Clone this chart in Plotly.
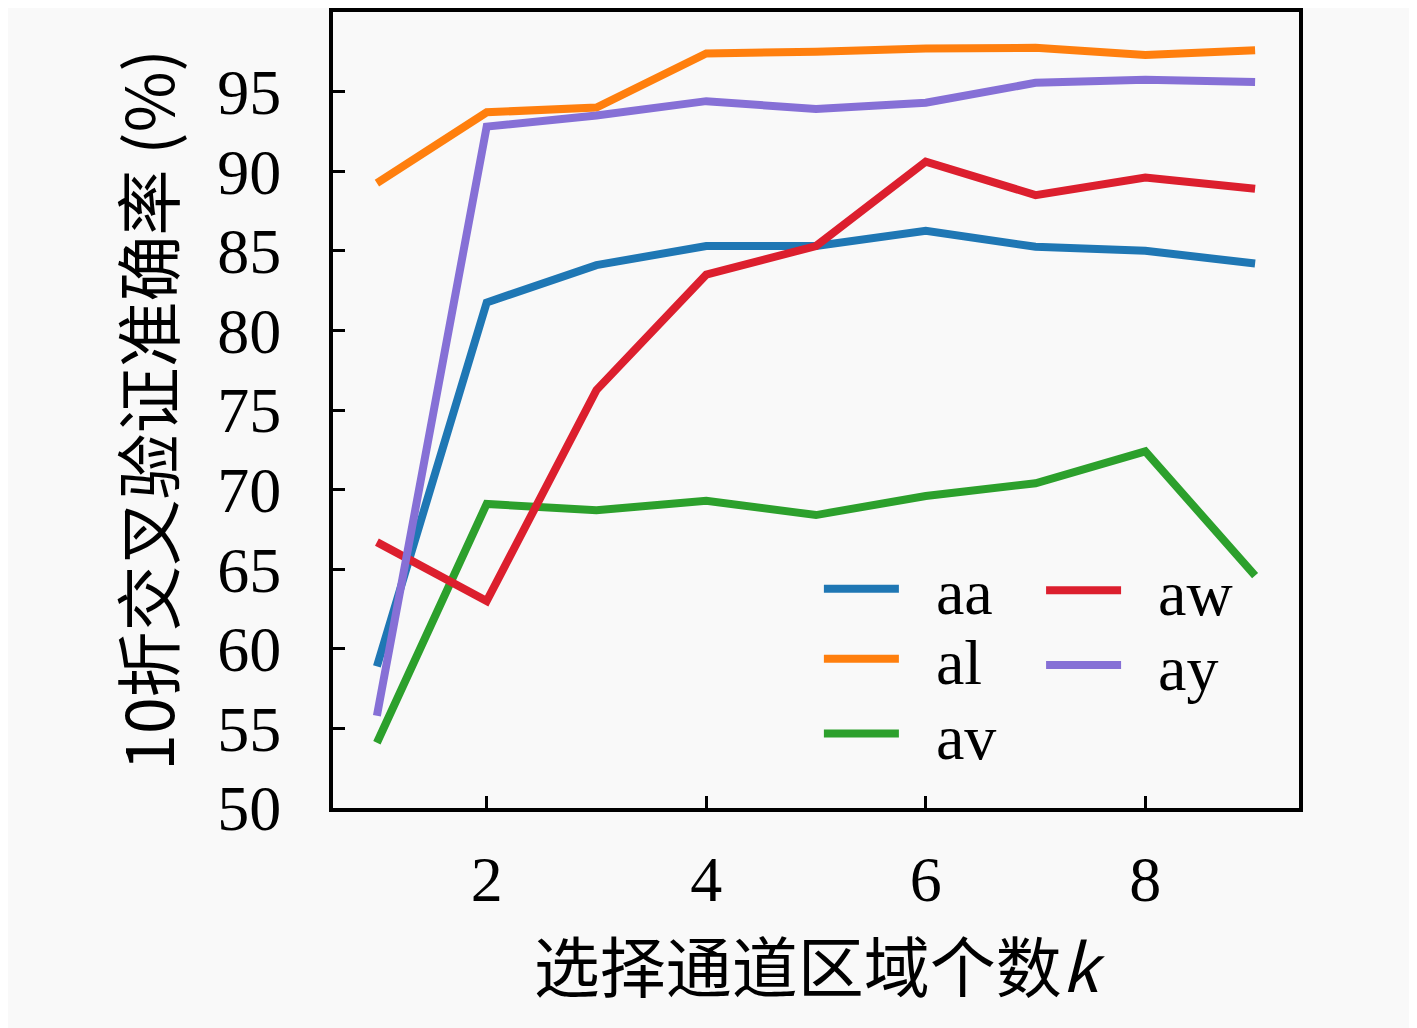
import plotly.graph_objects as go

k = [1, 2, 3, 4, 5, 6, 7, 8, 9]
aa = [58.9, 81.75, 84.1, 85.3, 85.3, 86.25, 85.25, 85.0, 84.2]
al = [89.25, 93.7, 94.0, 97.4, 97.5, 97.7, 97.75, 97.3, 97.6]
av = [54.1, 69.1, 68.7, 69.3, 68.4, 69.6, 70.4, 72.4, 64.6]
aw = [66.7, 63.0, 76.25, 83.5, 85.3, 90.6, 88.5, 89.6, 88.9]
ay = [55.8, 92.8, 93.5, 94.4, 93.9, 94.3, 95.55, 95.75, 95.6]

names = ["aa", "al", "av", "aw", "ay"]
values = [aa, al, av, aw, ay]
colors = ["#1f77b4", "#ff7f0e", "#2ca02c", "#dc1f2e", "#8670d6"]
legend_ids = ["legend", "legend2", "legend3", "legend4", "legend5"]
# legend placement (paper coords) for a two-column legend
legend_x = [0.503, 0.503, 0.503, 0.733, 0.733]
legend_y = [0.275, 0.187, 0.093, 0.273, 0.179]

xticks = [2, 4, 6, 8]
yticks = [50, 55, 60, 65, 70, 75, 80, 85, 90, 95]

SERIF = "Liberation Serif, Noto Sans CJK SC, serif"
CJK = "Noto Sans CJK SC, Liberation Serif"
BG = "#f9f9f9"

fig = go.Figure()
for name, vals, color, lg in zip(names, values, colors, legend_ids):
    fig.add_trace(go.Scatter(x=k, y=vals, mode="lines", name="\u2002" + name,
                             line=dict(color=color, width=8), legend=lg))

layout_legends = {}
for lg, lx, ly in zip(legend_ids, legend_x, legend_y):
    layout_legends[lg] = dict(x=lx, y=ly, xanchor="left", yanchor="middle",
                              bgcolor="rgba(0,0,0,0)", font=dict(size=64),
                              itemwidth=75, borderwidth=0)

fig.update_layout(
    width=1409, height=1020,
    margin=dict(l=325, r=118, t=0, b=220),
    paper_bgcolor=BG, plot_bgcolor=BG,
    font=dict(family=SERIF, size=64, color="black"),
    showlegend=True,
    **layout_legends,
)
fig.update_xaxes(
    range=[0.6, 9.4], tickvals=xticks, ticktext=[str(v) for v in xticks],
    ticks="inside", ticklen=12, tickwidth=3, tickcolor="black",
    showline=True, linewidth=4, linecolor="black", mirror=True,
    showgrid=False, zeroline=False, ticklabelstandoff=12,
    title=dict(text="选择通道区域个数<i>k</i>", standoff=14,
               font=dict(size=66, family=CJK)),
)
fig.update_yaxes(
    range=[50, 100], tickvals=yticks, ticktext=[str(v) for v in yticks],
    ticks="inside", ticklen=12, tickwidth=3, tickcolor="black",
    showline=True, linewidth=4, linecolor="black", mirror=True,
    showgrid=False, zeroline=False, ticklabelstandoff=35,
    title=dict(text="10折交叉验证准确率 (%)", standoff=22,
               font=dict(size=66, family=CJK)),
)

fig.write_html("out.html")
